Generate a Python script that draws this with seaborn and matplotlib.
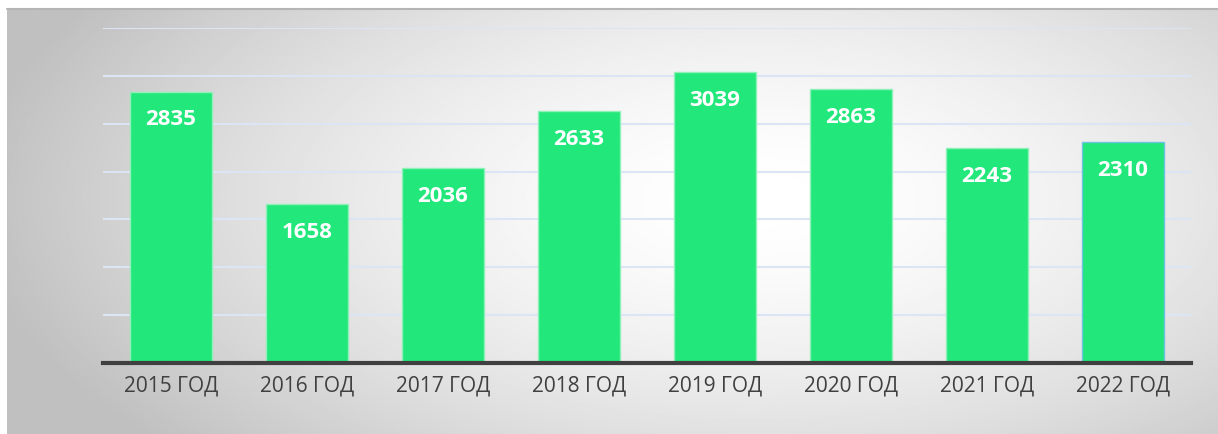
import numpy as np
import matplotlib
matplotlib.use("Agg")
import matplotlib.pyplot as plt
import seaborn as sns

# chart data
years = ["2015 ГОД", "2016 ГОД", "2017 ГОД", "2018 ГОД",
         "2019 ГОД", "2020 ГОД", "2021 ГОД", "2022 ГОД"]
counts = [2835, 1658, 2036, 2633, 3039, 2863, 2243, 2310]
grid_ticks = [500, 1000, 1500, 2000, 2500, 3000, 3500]

sns.set_theme(style="white")
plt.rcParams['font.family'] = ['Open Sans', 'DejaVu Sans']

fig = plt.figure(figsize=(12.18, 4.34), dpi=100)
fig.patch.set_facecolor("white")

# radial grey-to-white background panel
bg = fig.add_axes([7 / 1218, 0, 1 - 7 / 1218, 1 - 9 / 434])
bg.set_axis_off()
yy, xx = np.mgrid[0:1:300j, 0:1:800j]
r = np.sqrt(((xx - 0.62) / 0.7) ** 2 + ((yy - 0.55) / 0.95) ** 2)
shade = np.clip(1.0 - 0.28 * r ** 1.6, 0.75, 1.0)
bg.imshow(shade, cmap="gray", vmin=0, vmax=1, aspect="auto",
          extent=[0, 1, 0, 1], origin="lower")
bg.set_xlim(0, 1)
bg.set_ylim(0, 1)
fig.add_artist(plt.Line2D([7 / 1218, 1], [1 - 9 / 434, 1 - 9 / 434],
                          color="#b5b5b5", lw=1.5, transform=fig.transFigure))

ax = fig.add_axes([103 / 1218, 1 - 363 / 434, 1088 / 1218, 335 / 434])
ax.patch.set_alpha(0)

for t in grid_ticks:
    ax.axhline(t, color="#dce5f5", lw=1.5, zorder=0)

sns.barplot(x=years, y=counts, color="#22e87c", saturation=1, width=0.6,
            edgecolor="#8ff0b8", linewidth=1, ax=ax, zorder=2)
ax.patches[-1].set_edgecolor("#6cc3e0")

for i, v in enumerate(counts):
    ax.text(i, v - 295, str(v), ha="center", va="center", color="white",
            fontsize=16, fontweight="bold", zorder=3)

ax.set_xlim(-0.5, len(years) - 0.5)
ax.set_ylim(0, 3500)
ax.set_yticks([])
ax.set_xlabel("")
ax.set_ylabel("")
for s in ["top", "right", "left"]:
    ax.spines[s].set_visible(False)
ax.spines["bottom"].set_color("#404040")
ax.spines["bottom"].set_linewidth(3)
ax.tick_params(axis="x", length=0, pad=9, labelsize=15, labelcolor="#404040")

fig.savefig("out.png", dpi=100)
